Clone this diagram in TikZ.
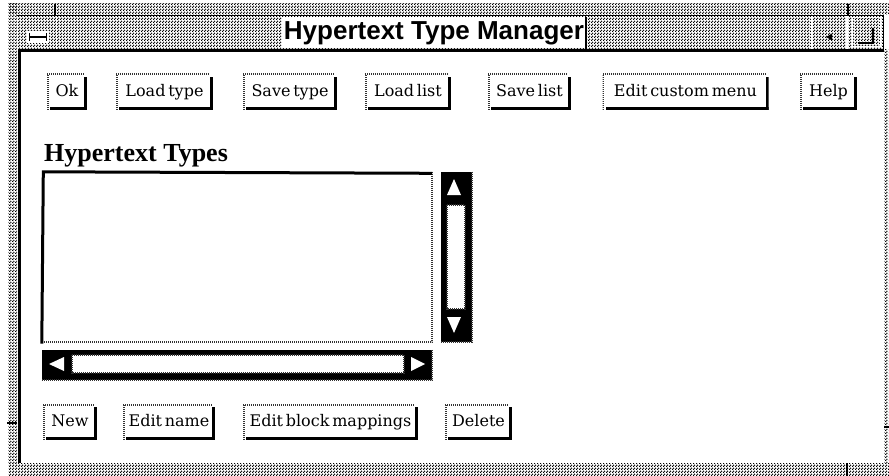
\documentclass[tikz,border=0pt]{standalone}
\usepackage{fontspec}
\setmainfont{DejaVu Serif}[WordSpace=0.55]
\newfontfamily\titlefont{Liberation Sans}
\newfontfamily\headfont{Liberation Serif}
\usetikzlibrary{patterns}
\pgfdeclarepatternformonly{olstip}{\pgfpointorigin}{\pgfqpoint{3pt}{3pt}}{\pgfqpoint{3pt}{3pt}}{%
  \pgfpathcircle{\pgfqpoint{0.75pt}{0.75pt}}{0.95pt}%
  \pgfpathcircle{\pgfqpoint{2.25pt}{2.25pt}}{0.95pt}%
  \pgfusepath{fill}}
\begin{document}
\begin{tikzpicture}[x=1pt,y=-1pt,
  stip/.style={pattern=olstip, pattern color=black},
  dotline/.style={line width=2pt, dash pattern=on 1pt off 1pt, black!80},
  olbtn/.style={fill=white, inner sep=0pt, minimum height=36pt, text height=12pt, text depth=3.5pt,
    font=\fontsize{16}{18}\selectfont,
    path picture={
      \fill[black] ([xshift=-3pt,yshift=-3pt]path picture bounding box.north east) rectangle (path picture bounding box.south east);
      \fill[black] ([xshift=3pt,yshift=3pt]path picture bounding box.south west) rectangle (path picture bounding box.south east);
      \draw[line width=3pt, dash pattern=on 1pt off 1pt, black!80] (path picture bounding box.south west) -- (path picture bounding box.north west) -- ([xshift=-3pt]path picture bounding box.north east);
    }},
  tri/.style={fill=white, draw=none}
]
\useasboundingbox (0,0) rectangle (889,476);
\fill[white] (0,0) rectangle (889,476);

% window frame
\fill[stip] (9,4) rectangle (889,15);
\fill[stip] (8,4) rectangle (17,463);
\fill[stip] (8,463) rectangle (889,476);
\fill[stip] (884,50) rectangle (888,463);
\fill[stip] (18,16) rectangle (883,49);
\draw[line width=1pt] (17,15.5) -- (883,15.5);
\fill[black] (18,49) rectangle (883,52);
\fill[black] (18,49) rectangle (21,463);
\draw[line width=1pt] (883,15) -- (883,52);

% corner marks
\draw[line width=1.5pt] (55,4) -- (55,15);
\draw[line width=1.5pt] (848,4) -- (848,15);
\draw[line width=1.5pt] (7,423) -- (17,423);
\draw[line width=1.5pt] (884,427) -- (889,427);
\draw[line width=1.5pt] (847,463) -- (847,476);

% title bar separators and glyphs
\draw[white, line width=1.5pt] (56.5,16) -- (56.5,49);
\draw[white, line width=1.5pt] (812,16) -- (812,49);
\draw[white, line width=1.5pt] (847,16) -- (847,49);
\fill[white] (27,31) rectangle (49,43);
\draw[line width=2pt] (29,37) -- (47,37);
\draw[line width=1.5pt] (29.5,33) -- (29.5,41) (46.5,33) -- (46.5,41);
\fill[black] (826,37) -- (832,33.5) -- (832,40.5) -- cycle;
\draw[white, line width=1pt] (852,18) rectangle (880,47);
\draw[line width=1.5pt] (858,43) -- (873,43) -- (873,28);

% title
\fill[white] (282,17) rectangle (586,48);
\draw[line width=1.5pt] (586,17) -- (586,49);
\node[font=\titlefont\bfseries\fontsize{26}{28}\selectfont, inner sep=0pt] (title) at (434,33) {Hypertext Type Manager};

% top buttons
\node[olbtn, minimum width=40pt] (ok) at (67,92) {Ok};
\node[olbtn, minimum width=97pt] (loadtype) at (164.5,92) {Load type};
\node[olbtn, minimum width=94pt] (savetype) at (290,92) {Save type};
\node[olbtn, minimum width=86pt] (loadlist) at (408,92) {Load list};
\node[olbtn, minimum width=83pt] (savelist) at (529.5,92) {Save list};
\node[olbtn, minimum width=166pt] (editmenu) at (685.5,92) {Edit custom menu};
\node[olbtn, minimum width=57pt] (help) at (828.5,92) {Help};

% list label
\node[anchor=base west, inner sep=0pt, font=\headfont\bfseries\fontsize{26}{28}\selectfont] (listlabel) at (44,162) {Hypertext Types};

% list box
\node[fill=white, inner sep=0pt, minimum width=390pt, minimum height=170pt] (list) at (237,257) {};
\draw[dotline] (list.north east) -- (list.south east) -- (list.south west);
\draw[line width=3pt] ([yshift=-1.5pt]list.south west) -- ([xshift=1.5pt]list.north west) -- ([yshift=-1.5pt]list.north east);

% vertical scrollbar
\node[fill=black, inner sep=0pt, minimum width=31pt, minimum height=170pt] (vsb) at (456,257) {};
\draw[dotline] (vsb.north east) -- (vsb.south east) -- (vsb.south west);
\fill[tri] (454,179) -- (447,195) -- (461,195) -- cycle;
\fill[tri] (454,333) -- (447,317) -- (461,317) -- cycle;
\node[fill=white, inner sep=0pt, minimum width=18pt, minimum height=104pt] (vtrough) at (456,257) {};
\draw[dotline, line width=1.5pt] (vtrough.north west) rectangle (vtrough.south east);

% horizontal scrollbar
\node[fill=black, inner sep=0pt, minimum width=390pt, minimum height=30pt] (hsb) at (237,365) {};
\draw[dotline] (hsb.north east) -- (hsb.south east) -- (hsb.south west);
\fill[tri] (49,364) -- (64,357) -- (64,371) -- cycle;
\fill[tri] (425,364) -- (411,357) -- (411,371) -- cycle;
\node[fill=white, inner sep=0pt, minimum width=332pt, minimum height=18pt] (htrough) at (238,364) {};
\draw[dotline, line width=1.5pt] (htrough.north west) rectangle (htrough.south east);

% bottom buttons
\node[olbtn, minimum width=54pt] (new) at (70,422) {New};
\node[olbtn, minimum width=92pt] (editname) at (169,422) {Edit name};
\node[olbtn, minimum width=175pt] (editblock) at (330.5,422) {Edit block mappings};
\node[olbtn, minimum width=67pt] (delete) at (478.5,422) {Delete};
\end{tikzpicture}
\end{document}
